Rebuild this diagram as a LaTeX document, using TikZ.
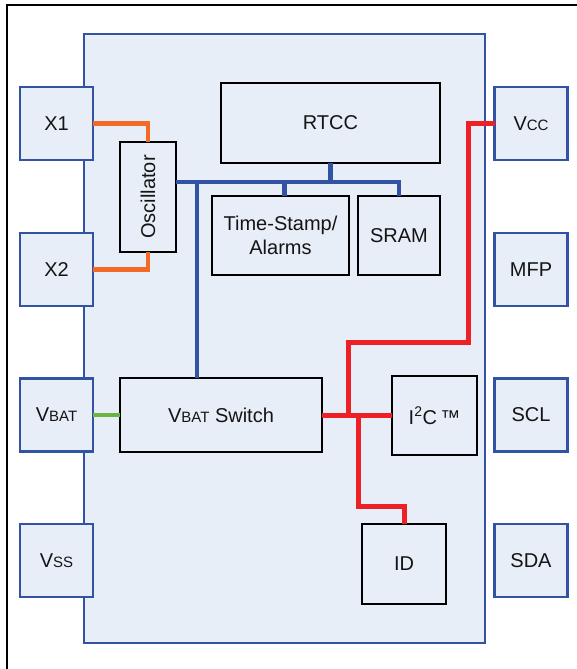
\documentclass[tikz,border=0pt]{standalone}
\usepackage{fontspec}
\setmainfont{Liberation Sans}
\definecolor{chipfill}{RGB}{232,238,247}
\definecolor{pinblue}{RGB}{50,82,164}
\definecolor{busblue}{RGB}{50,82,164}
\definecolor{wireorange}{RGB}{242,106,36}
\definecolor{wirered}{RGB}{237,32,38}
\definecolor{wiregreen}{RGB}{108,180,64}
\definecolor{txt}{RGB}{20,20,20}
\newcommand{\sml}[1]{{\fontsize{15}{18}\selectfont #1}}
\begin{document}
\begin{tikzpicture}[x=1pt,y=-1pt,
  every node/.style={inner sep=0pt,outer sep=0pt,text=txt,font=\fontsize{20}{24}\selectfont},
  pinbox/.style={draw=pinblue,line width=2.3pt,fill=chipfill,minimum width=73pt,minimum height=73pt},
  blockbox/.style={draw=black,line width=2.3pt,fill=chipfill},
  bluewire/.style={draw=busblue,line width=4.5pt},
  orangewire/.style={draw=wireorange,line width=4.5pt},
  redwire/.style={draw=wirered,line width=5pt},
  greenwire/.style={draw=wiregreen,line width=4.5pt}]
\useasboundingbox (0,0) rectangle (577,669);
\fill[white] (0,0) rectangle (577,669);
% outer frame
\draw[black,line width=2pt] (7,680) -- (7,5) -- (590,5);
% chip body
\draw[pinblue,line width=2.3pt,fill=chipfill] (84,34) rectangle (485,643);
% blocks
\node[blockbox,minimum width=219pt,minimum height=80pt] (rtcc) at (330.5,123) {RTCC};
\node[blockbox,minimum width=56pt,minimum height=110pt] (osc) at (148,197) {\rotatebox{90}{Oscillator}};
\node[blockbox,minimum width=137pt,minimum height=79pt,align=center] (ts) at (280.5,235.5) {Time-Stamp/\\Alarms};
\node[blockbox,minimum width=82pt,minimum height=79pt] (sram) at (399,235.5) {SRAM};
\node[blockbox,minimum width=202pt,minimum height=74pt] (sw) at (221,415) {V\sml{BAT} Switch};
\node[blockbox,minimum width=85pt,minimum height=79pt] (i2c) at (434.5,415.5) {I\textsuperscript{2}C\,™};
\node[blockbox,minimum width=84pt,minimum height=80pt] (id) at (404,564) {ID};
% coordinates for wire routing
\coordinate (bus) at (0,182);
\coordinate (tap) at (197,182);
\coordinate (rv1) at (468,342);
\coordinate (rj1) at (348,342);
\coordinate (rj2) at (358,506);
% blue bus
\draw[bluewire] (osc.east |- bus) -- (sram.north |- bus) -- (sram.north);
\draw[bluewire] (rtcc.south) -- (rtcc.south |- bus);
\draw[bluewire] ([xshift=4pt]ts.north |- bus) -- ([xshift=4pt]ts.north);
\draw[bluewire] (tap) -- (tap |- sw.north);
% pins
\node[pinbox] (x1) at (56.5,123.5) {X1};
\node[pinbox] (x2) at (56.5,269.5) {X2};
\node[pinbox] (vbat) at (56.5,415) {V\sml{BAT}};
\node[pinbox] (vss) at (56.5,560.5) {V\sml{SS}};
\node[pinbox] (vcc) at (531,123.5) {V\sml{CC}};
\node[pinbox] (mfp) at (531,269.5) {MFP};
\node[pinbox] (scl) at (531,415) {SCL};
\node[pinbox] (sda) at (531,560.5) {SDA};
% orange
\draw[orangewire] (x1.east) -| (osc.north);
\draw[orangewire] (x2.east) -| (osc.south);
% green
\draw[greenwire] (vbat.east) -- (sw.west);
% red
\draw[redwire] (sw.east) -- (i2c.west |- sw.east);
\draw[redwire] (vcc.west) -| (rv1) -- (rj1) -- (rj1 |- sw.east);
\draw[redwire] (rj2 |- sw.east) -- (rj2) -| (id.north);
\end{tikzpicture}
\end{document}
